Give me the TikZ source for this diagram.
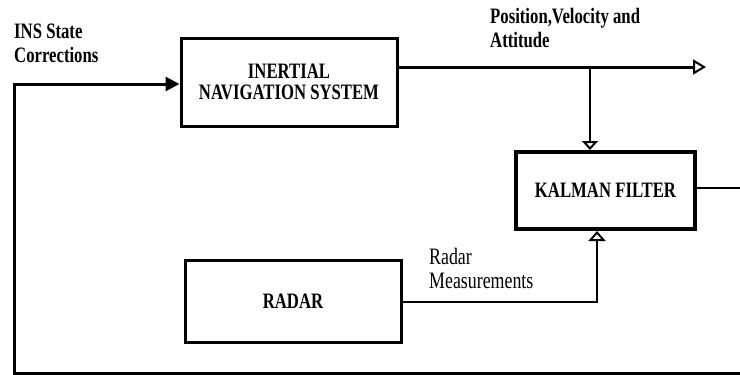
\documentclass[tikz,border=0pt]{standalone}
\usepackage{fontspec}
\setmainfont{Liberation Serif}[FakeStretch=0.76]
\usetikzlibrary{arrows.meta}
\begin{document}
\begin{tikzpicture}[x=1pt,y=-1pt,
  blk/.style={draw,line width=3pt,inner sep=0pt,align=center,font=\fontsize{22}{21}\selectfont\bfseries},
  lbl/.style={inner sep=0pt,anchor=base west,align=left},
  thick line/.style={line width=3pt},
  thin line/.style={line width=2pt}]
\useasboundingbox (0,0) rectangle (740,375);
\node[blk,minimum width=216pt,minimum height=88pt] (ins) at (289,82) {INERTIAL\\NAVIGATION SYSTEM};
\node[blk,line width=4pt,minimum width=179pt,minimum height=77pt] (kf) at (605.5,190.5) {KALMAN FILTER};
\node[blk,minimum width=216pt,minimum height=82pt] (radar) at (293,301) {RADAR};
% labels
\node[lbl,font=\fontsize{22}{24}\selectfont\bfseries] (lins) at (14,62) {INS State\\Corrections};
\node[lbl,font=\fontsize{22}{24}\selectfont\bfseries] (lpva) at (490,47) {Position,Velocity and\\Attitude};
\node[lbl,font=\fontsize{23.5}{24}\selectfont] (lrad) at (429,288) {Radar\\Measurements};
% coordinates
\coordinate (outend) at (706,67);
\coordinate (br) at (590,67);
\coordinate (rc) at (597,302);
\coordinate (kfout) at (740,188);
\coordinate (bR) at (740,373);
\coordinate (bL) at (14,373);
\coordinate (tL) at (14,84);
% connectors
\draw[thick line,-{Triangle[open,length=13pt,width=15pt,line width=2pt]}] (ins.east |- outend) -- (outend);
\draw[thin line,-{Triangle[open,length=9pt,width=16pt,line width=2pt]}] (br) -- (br |- kf.north);
\draw[thin line,-{Triangle[open,length=10pt,width=17pt,line width=2pt]}] (radar.east |- rc) -- (rc) -- (rc |- kf.south);
\draw[thin line] (kf.east |- kfout) -- (kfout);
\draw[thick line,-{Triangle[length=14pt,width=14pt]}] (bR) -- (bL) -- (tL) -- (tL -| ins.west);
\end{tikzpicture}
\end{document}
